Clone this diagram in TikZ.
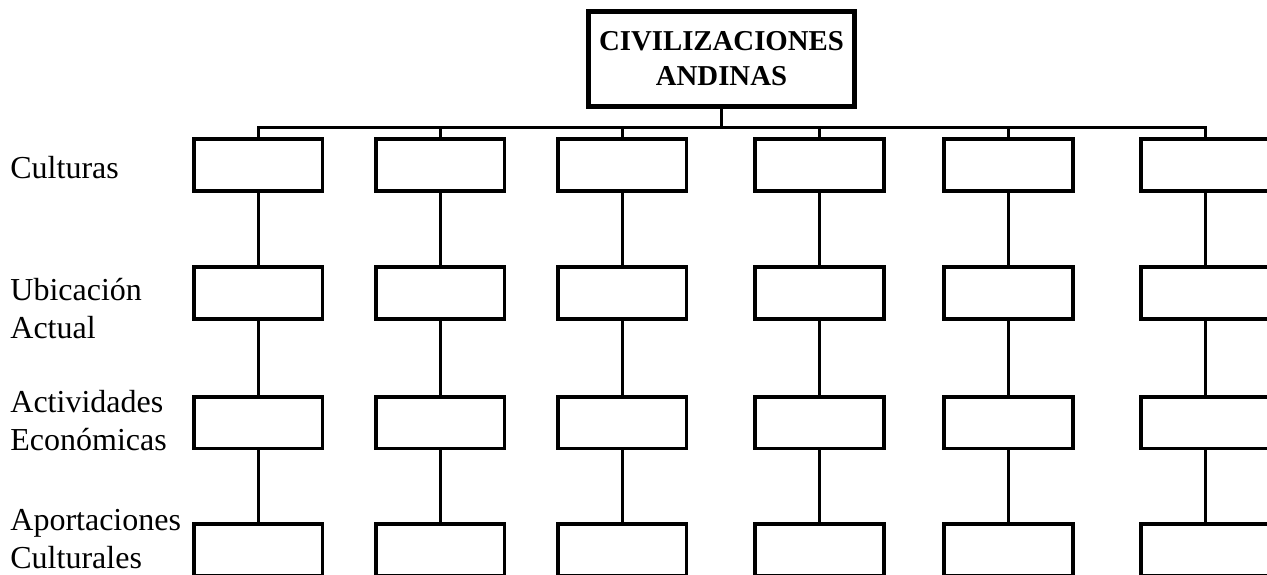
\documentclass[tikz,border=0pt]{standalone}
\usepackage{fontspec}
\setmainfont{Liberation Serif}
\usetikzlibrary{positioning}

\begin{document}
\begin{tikzpicture}[x=0.5pt, y=-0.5pt,
  box/.style={draw, line width=1.8pt, minimum width=64.3pt, minimum height=25.8pt, inner sep=0pt},
  titlebox/.style={draw, line width=2.6pt, minimum width=133pt, minimum height=47.5pt, align=center, inner sep=0pt, font=\fontsize{14.4}{17.5}\selectfont\bfseries},
  lbl/.style={anchor=west, align=left, inner sep=0pt, font=\fontsize{16}{19}\selectfont},
  link/.style={line width=1.5pt},
]
  \useasboundingbox (0,0) rectangle (1267,574);
  \node[titlebox] (civ) at (721.5,59) {CIVILIZACIONES\\ANDINAS};
  \coordinate (bus) at (721.5,127);

  % row labels
  \node[lbl] (lcul) at (10,168) {Culturas};
  \node[lbl] (lubi) at (10,309) {Ubicación\\Actual};
  \node[lbl] (lact) at (10,421) {Actividades\\Económicas};
  \node[lbl] (lapo) at (10,539) {Aportaciones\\Culturales};

  % one column per culture
  \foreach \x [count=\i] in {258,440,622,819.5,1008.5,1205} {
    \node[box] (cul\i) at (\x,165) {};
    \node[box] (ubi\i) at (\x,293) {};
    \node[box] (act\i) at (\x,422.5) {};
    \node[box] (apo\i) at (\x,550) {};
    \draw[link] (cul\i.north) -- (cul\i.north |- bus);
    \draw[link] (cul\i) -- (ubi\i);
    \draw[link] (ubi\i) -- (act\i);
    \draw[link] (act\i) -- (apo\i);
  }

  \draw[link] (civ.south) -- (bus);
  \draw[link] (cul1.north) |- (bus) -| (cul6.north);
\end{tikzpicture}
\end{document}
